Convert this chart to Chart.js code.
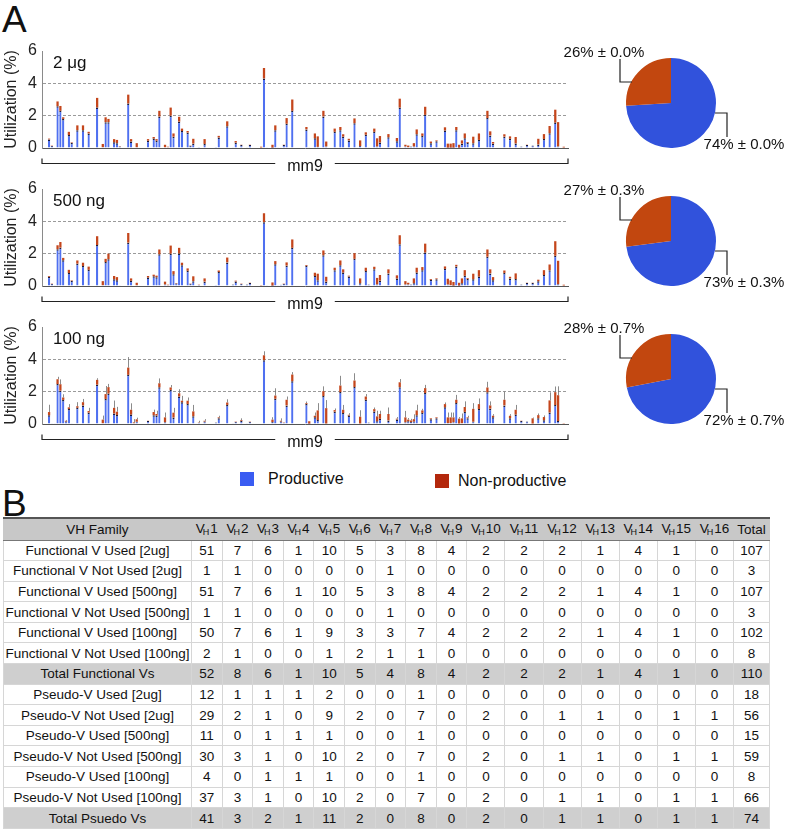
<!DOCTYPE html>
<html lang="en">
<head>
<meta charset="UTF-8">
<title>VH utilization</title>
<script src="https://cdn.jsdelivr.net/npm/chart.js"></script>
<style>
  body { margin:0; width:796px; height:831px; position:relative; background:#fff;
         font-family:'Liberation Sans', Arial, sans-serif; color:#111; overflow:hidden; }
  .abs { position:absolute; }
  .letter { font-size:37px; line-height:37px; }
  .sq { width:14px; height:14px; }
  .leg { font-size:16px; line-height:18px; }
  #vhTable { position:absolute; left:3px; top:517px; border-collapse:collapse; table-layout:fixed;
             width:766px; font-size:13.5px; }
  #vhTable th, #vhTable td { border:1px solid #d6d6d6; text-align:center; padding:0; white-space:nowrap; }
  #vhTable thead th { background:#c8c8c8; font-weight:normal; border-top:2px solid #555;
                      border-bottom:1px solid #777; border-left-color:#c8c8c8; border-right-color:#c8c8c8; }
  #vhTable thead tr { height:22px; }
  #vhTable tbody tr { height:20.6px; }
  #vhTable tr.total td { background:#cfcfcf; }
  #vhTable sub { font-size:9px; vertical-align:-2px; margin-left:-2px; margin-right:1px; }
</style>
</head>
<body>

<div class="abs letter" style="left:2px;top:1px">A</div>
<div class="abs letter" style="left:2px;top:485px">B</div>

<canvas id="bars0" class="abs" style="left:0;top:36px" width="572" height="140"></canvas>
<canvas id="bars1" class="abs" style="left:0;top:174px" width="572" height="140"></canvas>
<canvas id="bars2" class="abs" style="left:0;top:312px" width="572" height="140"></canvas>

<canvas id="pie0" class="abs" style="left:550px;top:36px" width="246" height="134"></canvas>
<canvas id="pie1" class="abs" style="left:550px;top:174px" width="246" height="134"></canvas>
<canvas id="pie2" class="abs" style="left:550px;top:312px" width="246" height="134"></canvas>

<div class="abs sq" style="left:240px;top:472px;background:#3a5cf2"></div>
<div class="abs leg" style="left:268px;top:470px">Productive</div>
<div class="abs sq" style="left:435px;top:474px;background:#b3280c"></div>
<div class="abs leg" style="left:458px;top:472px">Non-productive</div>

<table id="vhTable"><thead></thead><tbody></tbody></table>

<script>
// slot positions of the V genes along mm9 (186 slots, only used genes listed)
const SLOT_COUNT = 186;
const geneSlots = [2,3,4,5,6,7,8,9,10,12, 14,16,19,21,22,23,24,25,26,27, 30,31,32,33,37,39,40,41,43,44,
  45,46,47,48,49,51,52,53,55,57, 61,62,65,67,68,70,72,73,77,78, 79,81,82,83,84,85,86,88,93,94,
  95,96,97,99,100,103,105,106,108,110, 112,114,115,117,118,119,122,123,125,126,
  128,129,130,131,132,134,135,137,138,139, 142,143,144,145,146,147,148,149,150,152,
  154,157,158,159,163,165,167,169,171,173, 175,177,179,181,182,184];

// utilization (%) - 2 ug
const prod2ug = [.53,.13,.03,2.58,2.3,1.8,.03,.8,.32,1.1, 1.1,.9,2.5,.05,1.6,1.6,.03,.35,.3,.1,
  2.75,.4,.03,.05,.45,.58,.45,1.95,.05,.05, 2.0,.7,.05,1.63,1.05,.95,.13,.27,.02,.25,
  .02,.65,1.35,.05,.33,.18,.05,.18,0,4.3, .05,.02,1.1,.05,.05,.18,1.5,2.3,1.15,.05,
  .03,.6,.07,1.95,.1,1.0,1.1,.7,.47,1.53, .12,.82,.05,1.0,.1,.34,.66,0,.42,2.5,
  .1,.05,.1,.1,.85,.75,2.05,.3,.05,.42, 1.08,.02,.02,.02,1.1,.02,.27,.6,.32,.3,
  .5,1.85,.78,.27,.7,.57,.28,.1,.18,.15, .22,.56,.91,1.57,.1,0];
const non2ug = [.05,.02,0,.3,.3,.1,0,.2,.03,.3, .3,.1,.6,.2,.3,.2,0,.2,.2,.02,
  .55,.15,0,.25,.1,.1,.1,.35,.15,.03, .5,.2,0,.3,.15,.1,.02,.3,0,.3,
  0,.1,.3,0,.1,.02,0,.02,.08,.65, 0,.18,.3,0,0,.02,.35,.7,.15,0,
  0,.3,.65,.35,.3,.2,.2,.15,.1,.3, .35,.15,0,.2,.5,.4,.2,0,.2,.55,
  .1,.1,0,.2,.3,.15,.5,.1,0,.05, .2,.25,.25,.28,.2,.18,.2,.3,.05,.4,
  .4,.45,.25,.1,.15,.15,.4,0,.02,0, .35,.3,.45,.8,1.5,.08];

// utilization (%) - 500 ng
const prod500 = [.57,.13,.05,2.27,2.37,1.59,.03,.8,.32,1.38, 1.24,1.0,2.53,.05,1.48,1.65,.03,.42,.35,.05,
  2.68,.32,.03,.05,.52,.6,.54,1.96,.1,.05, 2.0,.72,.15,2.01,1.29,.94,.13,.3,.06,.27,
  .02,.86,1.46,.1,.28,.13,.1,.18,0,3.95, .05,.02,1.34,.05,.08,.13,1.26,2.36,1.25,.05,
  .03,.62,.36,1.9,.27,.98,1.28,.83,.59,1.68, .17,.93,.1,1.04,.1,.33,.78,0,.46,2.59,
  .1,.1,.1,.17,.83,.97,2.07,.38,.05,.42, 1.06,.1,.05,.02,1.21,.02,.17,.63,.44,.41,
  .58,1.81,.78,.35,.81,.47,.43,.1,.18,.18, .29,.68,.98,1.87,.11,0];
const non500 = [.05,.02,0,.25,.35,.15,0,.2,.03,.2, .2,.2,.55,.25,.2,.35,0,.2,.2,0,
  .6,.15,0,.15,.1,.1,.1,.3,.17,.03, .5,.2,.03,.35,.15,.15,.02,.3,.02,.2,
  0,.1,.3,0,.05,.02,0,.02,.05,.55, 0,.2,.2,0,0,.02,.2,.52,.05,0,
  0,.2,.4,.3,.3,.15,.3,.2,.05,.35, .3,.2,0,.15,.4,.35,.25,0,.2,.55,
  .2,.1,0,.3,.3,.2,.55,.05,0,.05, .15,.35,.3,.23,.1,.18,.3,.35,.05,.35,
  .4,.45,.25,.2,.15,.1,.35,0,.02,.02, .1,.3,.35,.9,1.45,.08];

// utilization (%) - 100 ng, with SD
const prod100 = [.54,.05,.05,2.47,2.06,1.49,.15,.93,.05,1.0, 1.15,.7,2.43,.05,1.55,1.88,.03,.65,.56,.03,
  3.04,.58,.05,.14,.18,.54,.52,2.27,.11,.03, 2.11,.4,.05,1.7,1.34,1.24,.05,.48,.08,.15,
  .1,.36,1.18,.05,.13,.2,.05,.13,0,3.95, 0,.12,1.56,0,.15,.08,1.15,2.64,1.24,.02,
  0,.41,.24,1.73,.03,.76,1.98,.68,.52,2.29, 0,1.5,.1,.77,.17,.32,.22,.05,.28,2.28,
  .11,.17,.12,.15,.54,.69,1.92,.3,0,.36, 1.03,.06,.06,.11,1.3,.03,.05,.75,.36,.14,
  .93,1.96,.95,.41,1.15,.36,.58,.18,.15,.03, .35,.23,.71,1.17,.18,0];
const non100 = [.2,0,0,.3,.4,.15,.05,.1,0,.1, .2,.1,.3,.22,.3,.4,0,.35,.2,0,
  .45,.3,.05,.15,.02,.2,.1,.25,.3,0, .15,.3,0,.2,.1,.2,0,.3,.02,.05,
  0,.05,.15,0,.02,.05,0,.02,0,.3, 0,.15,.2,0,.05,.02,.35,.42,.05,.15,
  0,.1,.6,.3,.95,.1,.4,.2,.05,.4, .45,.2,0,.15,.3,.3,.4,0,.05,.3,
  .3,.1,.1,.15,.3,.15,.3,.05,0,.05, .2,.35,.35,.3,.2,.3,.3,.3,.05,.8,
  .3,.3,.2,.1,.35,.15,.3,.02,0,.32, .2,.2,.75,.8,1.6,.05];
const err100 = [.45,0,0,.15,.3,.2,.05,.2,0,.25, .2,.2,.1,.25,.5,.2,0,.45,.3,0,
  .65,.4,.2,.1,0,.15,.2,.3,.3,0, .15,.3,0,.25,.3,.2,0,.4,.1,.1,
  0,.1,.2,0,0,.1,0,0,0,.25, 0,.15,.45,0,.15,0,.2,.15,.1,0,
  0,.2,.45,.3,.5,.1,.6,.3,.1,.45, .4,.15,0,.1,.35,.2,.4,0,.1,.2,
  .4,.1,.1,.3,.35,.1,.2,0,0,0, .1,.3,.3,.3,.3,.1,.3,.35,.1,.35,
  .35,.35,.25,.1,.5,.1,.3,0,0,.05, .1,.1,.5,.35,.55,0];

const panelLabels = ['2 μg', '500 ng', '100 ng'];
const productiveShare = [74, 73, 72];
const nonProductiveShare = [26, 27, 28];
const shareSd = ['0.0', '0.3', '0.7'];

// table B
const vhColumns = ['1','2','3','4','5','6','7','8','9','10','11','12','13','14','15','16'];
const tableRows = [
  ['Functional V Used [2ug]', 51,7,6,1,10,5,3,8,4,2,2,2,1,4,1,0,107],
  ['Functional V Not Used [2ug]', 1,1,0,0,0,0,1,0,0,0,0,0,0,0,0,0,3],
  ['Functional V Used [500ng]', 51,7,6,1,10,5,3,8,4,2,2,2,1,4,1,0,107],
  ['Functional V Not Used [500ng]', 1,1,0,0,0,0,1,0,0,0,0,0,0,0,0,0,3],
  ['Functional V Used [100ng]', 50,7,6,1,9,3,3,7,4,2,2,2,1,4,1,0,102],
  ['Functional V Not Used [100ng]', 2,1,0,0,1,2,1,1,0,0,0,0,0,0,0,0,8],
  ['Total Functional Vs', 52,8,6,1,10,5,4,8,4,2,2,2,1,4,1,0,110],
  ['Pseudo-V Used [2ug]', 12,1,1,1,2,0,0,1,0,0,0,0,0,0,0,0,18],
  ['Pseudo-V Not Used [2ug]', 29,2,1,0,9,2,0,7,0,2,0,1,1,0,1,1,56],
  ['Pseudo-V Used [500ng]', 11,0,1,1,1,0,0,1,0,0,0,0,0,0,0,0,15],
  ['Pseudo-V Not Used [500ng]', 30,3,1,0,10,2,0,7,0,2,0,1,1,0,1,1,59],
  ['Pseudo-V Used [100ng]', 4,0,1,1,1,0,0,1,0,0,0,0,0,0,0,0,8],
  ['Pseudo-V Not Used [100ng]', 37,3,1,0,10,2,0,7,0,2,0,1,1,0,1,1,66],
  ['Total Psuedo Vs', 41,3,2,1,11,2,0,8,0,2,0,1,1,0,1,1,74]
];
const totalRowNames = ['Total Functional Vs', 'Total Psuedo Vs'];

Chart.defaults.font.family = "'Liberation Sans', Arial, sans-serif";
Chart.defaults.color = '#222';

function spread(vals) {
  const a = new Array(SLOT_COUNT).fill(0);
  geneSlots.forEach((s, i) => { a[s] = vals[i]; });
  return a;
}

const panelDecor = {
  id: 'panelDecor',
  afterDatasetsDraw(chart, args, opts) {
    if (!opts.err) return;
    const ctx = chart.ctx, y = chart.scales.y;
    const meta = chart.getDatasetMeta(1);
    ctx.save();
    ctx.strokeStyle = 'rgba(110,110,110,0.8)';
    ctx.lineWidth = 1;
    opts.err.forEach((e, i) => {
      if (!e) return;
      const x = Math.round(meta.data[geneSlots[i]].x) + 0.5;
      const tot = opts.prod[i] + opts.non[i];
      ctx.beginPath();
      ctx.moveTo(x, y.getPixelForValue(tot));
      ctx.lineTo(x, y.getPixelForValue(tot + e));
      ctx.stroke();
    });
    ctx.restore();
  },
  afterDraw(chart, args, opts) {
    const ctx = chart.ctx, a = chart.chartArea;
    ctx.save();
    ctx.fillStyle = '#111';
    ctx.font = "17px 'Liberation Sans', Arial, sans-serif";
    ctx.textAlign = 'left';
    ctx.textBaseline = 'middle';
    ctx.fillText(opts.label, a.left + 11, a.top + 12);

    // mm9 bracket
    const by = Math.round(a.bottom + 15) + 0.5;
    const mid = (a.left + a.right) / 2;
    ctx.font = "16px 'Liberation Sans', Arial, sans-serif";
    const gap = ctx.measureText('mm9').width / 2 + 12;
    ctx.strokeStyle = '#222';
    ctx.lineWidth = 1.2;
    ctx.beginPath();
    ctx.moveTo(a.left, by - 5); ctx.lineTo(a.left, by); ctx.lineTo(mid - gap, by);
    ctx.moveTo(mid + gap, by); ctx.lineTo(a.right, by); ctx.lineTo(a.right, by - 5);
    ctx.stroke();
    ctx.textAlign = 'center';
    ctx.fillText('mm9', mid, by + 3);
    ctx.restore();
  }
};

function makeBars(id, label, prod, non, err) {
  new Chart(document.getElementById(id), {
    type: 'bar',
    data: {
      labels: Array.from({length: SLOT_COUNT}, (_, i) => String(i + 1)),
      datasets: [
        { label: 'Productive', data: spread(prod), backgroundColor: '#4f70f0',
          borderColor: '#1c1c3c', borderWidth: {top: 1.5, right: 0, bottom: 0, left: 0},
          barPercentage: 0.8, categoryPercentage: 1 },
        { label: 'Non-productive', data: spread(non), backgroundColor: '#c4461c',
          borderWidth: 0, barPercentage: 0.8, categoryPercentage: 1 }
      ]
    },
    options: {
      responsive: false,
      animation: false,
      layout: { padding: { top: 15, right: 4, bottom: 28, left: 0 } },
      plugins: {
        legend: { display: false },
        tooltip: { enabled: false },
        panelDecor: { label: label, prod: prod, non: non, err: err }
      },
      scales: {
        x: {
          stacked: true,
          grid: { display: false, drawTicks: false },
          ticks: { display: false },
          border: { display: true, color: '#555', width: 1 }
        },
        y: {
          stacked: true, min: 0, max: 6,
          afterFit(s) { s.width = 42; },
          ticks: { stepSize: 2, padding: 5, color: '#222', font: { size: 16 } },
          grid: {
            drawTicks: false,
            color: c => (c.tick && (c.tick.value === 2 || c.tick.value === 4)) ? '#9a9a9a' : 'rgba(0,0,0,0)'
          },
          border: { display: true, color: '#8a8a8a', dash: [3, 2] },
          title: { display: true, text: 'Utilization (%)', color: '#222', font: { size: 16 },
                   padding: { top: 2, bottom: 0 } }
        }
      }
    },
    plugins: [panelDecor]
  });
}

makeBars('bars0', panelLabels[0], prod2ug, non2ug, null);
makeBars('bars1', panelLabels[1], prod500, non500, null);
makeBars('bars2', panelLabels[2], prod100, non100, err100);

const pieLabels = {
  id: 'pieLabels',
  afterDraw(chart, args, opts) {
    const ctx = chart.ctx;
    const arc = chart.getDatasetMeta(0).data[0];
    const cx = arc.x, cy = arc.y;
    ctx.save();
    ctx.strokeStyle = '#222';
    ctx.lineWidth = 1.2;
    ctx.beginPath();
    ctx.moveTo(cx - 39, cy - 21); ctx.lineTo(cx - 51, cy - 21); ctx.lineTo(cx - 51, cy - 44);
    ctx.moveTo(cx + 44, cy + 10); ctx.lineTo(cx + 56, cy + 10); ctx.lineTo(cx + 56, cy + 34);
    ctx.stroke();
    ctx.fillStyle = '#111';
    ctx.font = "15px 'Liberation Sans', Arial, sans-serif";
    ctx.textAlign = 'center';
    ctx.textBaseline = 'middle';
    ctx.fillText(opts.redText, cx - 67, cy - 50);
    ctx.fillText(opts.blueText, cx + 73, cy + 42);
    ctx.restore();
  }
};

productiveShare.forEach((p, k) => {
  new Chart(document.getElementById('pie' + k), {
    type: 'pie',
    data: {
      labels: ['Productive', 'Non-productive'],
      datasets: [{ data: [p, nonProductiveShare[k]], backgroundColor: ['#3152dc', '#c2470f'], borderWidth: 0 }]
    },
    options: {
      responsive: false,
      animation: false,
      layout: { padding: { left: 76, right: 80, top: 22, bottom: 22 } },
      plugins: {
        legend: { display: false },
        tooltip: { enabled: false },
        pieLabels: {
          redText: nonProductiveShare[k] + '% ± ' + shareSd[k] + '%',
          blueText: p + '% ± ' + shareSd[k] + '%'
        }
      }
    },
    plugins: [pieLabels]
  });
});

// table
const table = document.getElementById('vhTable');
const colWidths = [188].concat(new Array(9).fill(30.6), new Array(7).fill(38.1), [36]);
const colgroup = document.createElement('colgroup');
colWidths.forEach(w => { const c = document.createElement('col'); c.style.width = w + 'px'; colgroup.appendChild(c); });
table.insertBefore(colgroup, table.firstChild);

let head = '<tr><th>VH Family</th>';
vhColumns.forEach(v => { head += '<th>V<sub>H</sub>' + v + '</th>'; });
head += '<th>Total</th></tr>';
table.tHead.innerHTML = head;

let body = '';
tableRows.forEach(r => {
  body += '<tr' + (totalRowNames.includes(r[0]) ? ' class="total"' : '') + '>';
  r.forEach(v => { body += '<td>' + v + '</td>'; });
  body += '</tr>';
});
table.tBodies[0].innerHTML = body;
</script>
</body>
</html>
